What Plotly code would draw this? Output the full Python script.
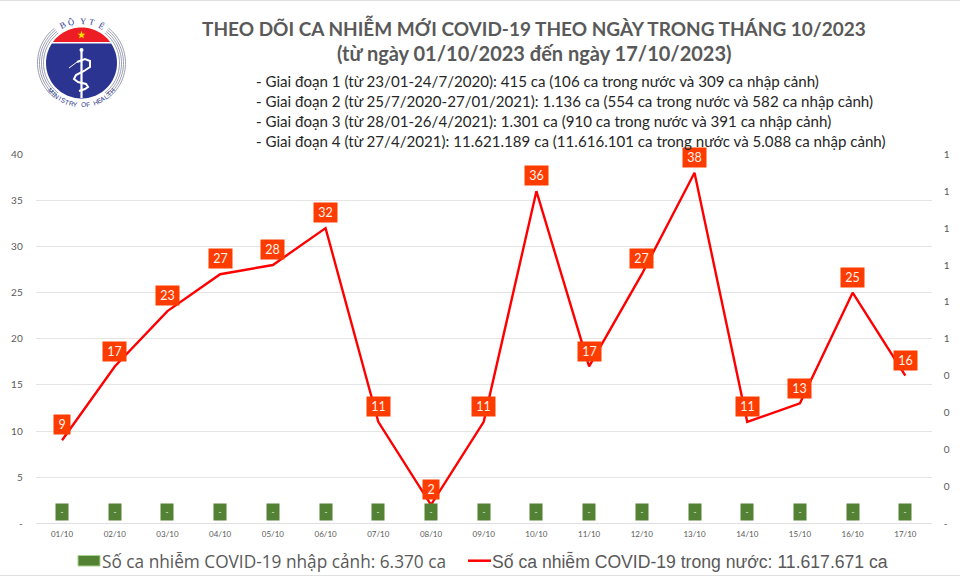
import numpy as np
import plotly.graph_objects as go

# data
days = ["01/10", "02/10", "03/10", "04/10", "05/10", "06/10", "07/10", "08/10", "09/10",
        "10/10", "11/10", "12/10", "13/10", "14/10", "15/10", "16/10", "17/10"]
domestic = [9, 17, 23, 27, 28, 32, 11, 2, 11, 36, 17, 27, 38, 11, 13, 25, 16]
imported = [0, 0, 0, 0, 0, 0, 0, 0, 0, 0, 0, 0, 0, 0, 0, 0, 0]
left_ticks = [0, 5, 10, 15, 20, 25, 30, 35, 40]
left_labels = ["-", "5", "10", "15", "20", "25", "30", "35", "40"]
right_ticks = [0, 0.1, 0.2, 0.3, 0.4, 0.5, 0.6, 0.7, 0.8, 0.9, 1]
right_labels = ["-", "0", "0", "0", "0", "1", "1", "1", "1", "1", "1"]

title_lines = ["THEO DÕI CA NHIỄM MỚI COVID-19 THEO NGÀY TRONG THÁNG 10/2023",
               "(từ ngày 01/10/2023 đến ngày 17/10/2023)"]
phase_lines = [
    "- Giai đoạn 1 (từ 23/01-24/7/2020): 415 ca (106 ca trong nước và 309 ca nhập cảnh)",
    "- Giai đoạn 2 (từ 25/7/2020-27/01/2021): 1.136 ca (554 ca trong nước và 582 ca nhập cảnh)",
    "- Giai đoạn 3 (từ 28/01-26/4/2021): 1.301 ca (910 ca trong nước và 391 ca nhập cảnh)",
    "- Giai đoạn 4 (từ 27/4/2021): 11.621.189 ca (11.616.101 ca trong nước và 5.088 ca nhập cảnh)",
]
imported_name = "Số ca nhiễm COVID-19 nhập cảnh: 6.370 ca"
domestic_name = "Số ca nhiễm COVID-19 trong nước: 11.617.671 ca"

W, H = 960, 576
GREY = "#595959"
BODY = "Lato, 'Noto Sans', sans-serif"


# pixel position on the page -> paper coordinates
def X(px):
    return px / W


def Y(py):
    return 1 - py / H


def poly(points, close=False):
    s = "M " + " L ".join(f"{X(a):.5f},{Y(b):.5f}" for a, b in points)
    return s + " Z" if close else s


def page_text(fig, px, py, text, size, color=GREY, family=BODY, anchor="left", angle=0):
    fig.add_annotation(x=X(px), y=Y(py), xref="paper", yref="paper", text=text, showarrow=False,
                       xanchor=anchor, yanchor="middle", textangle=angle, borderpad=0, borderwidth=0,
                       font=dict(size=size, color=color, family=family))


fig = go.Figure()

fig.add_trace(go.Bar(x=days, y=imported, name=imported_name, yaxis="y2", width=0.23,
                     marker=dict(color="#548235"), showlegend=False))
fig.add_trace(go.Scatter(x=days, y=domestic, name=domestic_name, mode="lines",
                         line=dict(color="#ff0000", width=2.4), showlegend=False))

# value labels, boxed like the original
for day, v in zip(days, imported):
    fig.add_annotation(x=day, y=v, xref="x", yref="y2", yshift=11.3, text="-", showarrow=False,
                       width=12, height=16, bgcolor="#548235", borderpad=0,
                       font=dict(size=8, color="white", family=BODY))
for day, v in zip(days, domestic):
    fig.add_annotation(x=day, y=v, xref="x", yref="y", yshift=15.3, text=str(v), showarrow=False,
                       width=16 if v < 10 else 23, height=19, bgcolor="#ff3c00", borderpad=0,
                       font=dict(size=12.5, color="#fff4ee", family=BODY))

# heading
page_text(fig, 534, 27, f"<b>{title_lines[0]}</b>", 19, anchor="center")
page_text(fig, 534, 53, f"<b>{title_lines[1]}</b>", 20, anchor="center")
for i, line in enumerate(phase_lines):
    page_text(fig, 255.5, 80.7 + i * 20.2, line, 15.1, color="#262626")

# legend drawn by hand, the two entries use different fonts
fig.add_shape(type="rect", xref="paper", yref="paper", x0=X(78), x1=X(100), y0=Y(566), y1=Y(555.5),
              fillcolor="#548235", line=dict(color="#a9d18e", width=1))
page_text(fig, 101.5, 561, imported_name, 17.25, family="'Open Sans', sans-serif")
fig.add_shape(type="line", xref="paper", yref="paper", x0=X(468), x1=X(491), y0=Y(560.7), y1=Y(560.7),
              line=dict(color="#ff0000", width=2.5))
page_text(fig, 491.5, 561, domestic_name, 17.6, family="'Liberation Sans', sans-serif")

# thin page edges
for y0, y1 in [(0, 1), (575, 576)]:
    fig.add_shape(type="rect", xref="paper", yref="paper", x0=0, x1=1, y0=Y(y1), y1=Y(y0),
                  fillcolor="#e0e0e0", line_width=0)

# ministry logo
cx, cy, r = 81.5, 63, 35.5
NAVY = "#2b3490"


def shape(path, fill=None, color=None, width=0):
    fig.add_shape(type="path", xref="paper", yref="paper", path=path,
                  fillcolor=fill, line=dict(color=color, width=width))


for rr in [38, 40, 42, 44]:
    for side in [0, 180]:
        a = np.radians(np.linspace(side - 52, side + 52, 30))
        shape(poly(list(zip(cx + rr * np.cos(a), cy + rr * np.sin(a)))), color="#8f93a8", width=0.9)
split = np.arcsin(21 / r)
a = np.linspace(-np.pi / 2 - (np.pi / 2 - split), -split, 40)
shape(poly(list(zip(cx + r * np.cos(a), cy + r * np.sin(a))), close=True), fill="#ee1c25")
split = np.arcsin(19.5 / r)
a = np.linspace(-split, np.pi + split, 60)
shape(poly(list(zip(cx + r * np.cos(a), cy + r * np.sin(a))), close=True), fill=NAVY)
a = -np.pi / 2 + np.arange(10) * np.pi / 5
rad = np.where(np.arange(10) % 2 == 0, 4.2, 1.7)
shape(poly(list(zip(cx + rad * np.cos(a), 35 + rad * np.sin(a))), close=True), fill="#ffe600")
shape(poly([(81.5, 50), (81.5, 98)]), color="white", width=2.2)
fig.add_shape(type="circle", xref="paper", yref="paper", x0=X(79.5), x1=X(83.5), y0=Y(52), y1=Y(48),
              fillcolor="white", line_width=0)
snake = [(77, 62), (85, 59), (90, 61), (90, 67), (84, 71), (76, 75), (74, 79), (78, 82), (86, 84),
         (88, 87), (85, 89), (79, 91)]
shape(poly(snake), color="white", width=2)
shape(poly([(69, 68), (77, 62)]), color="white", width=1)

for ch, deg in zip("BỘYTẾ", [-26, -14, 2, 15, 28]):
    t = np.radians(deg)
    page_text(fig, cx + 42 * np.sin(t), cy - 42 * np.cos(t), ch, 8.5, color=NAVY,
              family="'Liberation Serif', serif", anchor="center", angle=deg)
motto = "MINISTRY OF HEALTH"
for i, ch in enumerate(motto):
    if ch == " ":
        continue
    deg = -48 + i * 96 / (len(motto) - 1)
    t = np.radians(deg)
    page_text(fig, cx + 41.5 * np.sin(t), cy + 41.5 * np.cos(t), ch, 6.5, color=NAVY,
              family="'Liberation Sans', sans-serif", anchor="center", angle=-deg)

fig.update_layout(
    width=W, height=H, margin=dict(l=0, r=0, t=0, b=0, autoexpand=False),
    paper_bgcolor="white", plot_bgcolor="white", showlegend=False, bargap=0.77,
    xaxis=dict(domain=[X(35.7), X(931.7)], type="category", showgrid=False, showline=True,
               linecolor="#e0e0e0", ticks="outside", ticklen=3, tickcolor="rgba(0,0,0,0)",
               tickfont=dict(size=8, color=GREY, family=BODY), tickangle=0),
    yaxis=dict(domain=[Y(523.3), Y(154.3)], range=[0, 40], tickvals=left_ticks, ticktext=left_labels,
               gridcolor="#e4e4e4", gridwidth=1, zeroline=False, ticks="outside", ticklen=10,
               tickcolor="rgba(0,0,0,0)", tickfont=dict(size=10, color=GREY, family=BODY)),
    yaxis2=dict(domain=[Y(523.3), Y(154.3)], range=[0, 1], overlaying="y", side="right",
                tickvals=right_ticks, ticktext=right_labels, showgrid=False, zeroline=False,
                ticks="outside", ticklen=9, tickcolor="rgba(0,0,0,0)",
                tickfont=dict(size=10, color=GREY, family=BODY)),
)

fig.write_html("out.html", config=dict(displayModeBar=False),
               post_script="document.body.style.margin='0';document.body.style.overflow='hidden';")
